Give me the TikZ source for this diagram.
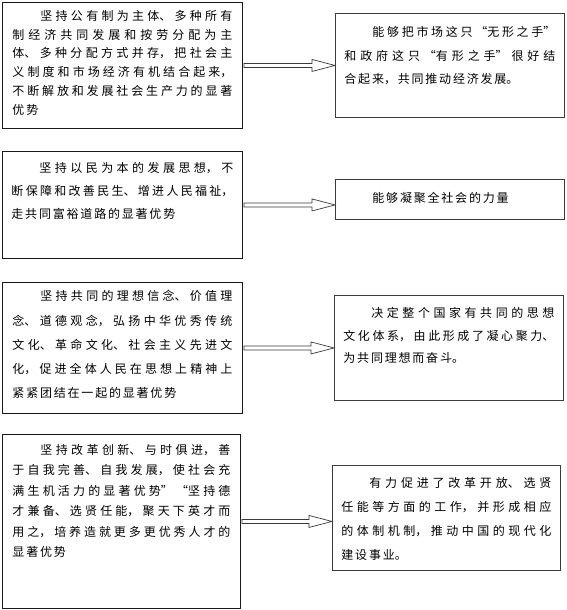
\documentclass[tikz,border=0pt]{standalone}
\usepackage{fontspec, xcolor}
\usetikzlibrary{calc}
\newfontfamily\cjk{Noto Sans CJK SC}
\definecolor{boxline}{HTML}{1A1A1A}
\definecolor{arrowgray}{HTML}{3A3A3A}

% paragraph inside a box: width, height, line skip, text (first line indented)
\newcommand{\celltext}[4]{\parbox[t][#2][t]{#1}{\baselineskip=#3
  \XeTeXlinebreaklocale "zh"\XeTeXlinebreakskip=1.8pt plus 6pt\relax
  \hspace*{28pt}#4}}

% outlined double-line arrow from the east side of #1 to the west side of #2
\newcommand{\hollowarrow}[2]{%
  \draw[arrowline] ($(#1.east)+(1,-2)$) -- ($(#1.east -| #2.west)+(-23,-2)$)
    -- ++(0,-4) -- (#1.east -| #2.west) -- ++(-23,6) -- ++(0,-4)
    -- ($(#1.east)+(1,2)$) -- cycle;}

\begin{document}
\begin{tikzpicture}[
    x=1pt, y=-1pt,
    font=\cjk\fontsize{12}{15}\selectfont,
    advbox/.style={rectangle, draw=boxline, line width=0.9pt, fill=white,
                   anchor=north west, inner xsep=10pt},
    effbox/.style={advbox, draw=boxline!85, line width=0.8pt, inner xsep=9pt},
    arrowline/.style={draw=arrowgray, line width=0.7pt, fill=white}
  ]
    % page background
    \fill[white] (0,0) rectangle (567,610);
    \useasboundingbox (0,0) rectangle (567,610);

    % advantages, left column
    \node[advbox, inner ysep=8pt] (adv1) at (2,2)
      {\celltext{220pt}{110pt}{18.7pt}{坚持公有制为主体、多种所有\linebreak
       制经济共同发展和按劳分配为主\linebreak
       体、多种分配方式并存，把社会主\linebreak
       义制度和市场经济有机结合起来，\linebreak
       不断解放和发展社会生产力的显著\linebreak
       优势}};
    \node[advbox, inner ysep=11pt, inner xsep=9pt] (adv2) at (2,151)
      {\celltext{222pt}{85pt}{23pt}{坚持以民为本的发展思想，不\linebreak
       断保障和改善民生、增进人民福祉，\linebreak
       走共同富裕道路的显著优势}};
    \node[advbox, inner ysep=8pt] (adv3) at (2,282)
      {\celltext{220pt}{115pt}{24.3pt}{坚持共同的理想信念、价值理\linebreak
       念、道德观念，弘扬中华优秀传统\linebreak
       文化、革命文化、社会主义先进文\linebreak
       化，促进全体人民在思想上精神上\linebreak
       紧紧团结在一起的显著优势}};
    \node[advbox, inner ysep=10pt] (adv4) at (2,434)
      {\celltext{218pt}{154pt}{20.4pt}{坚持改革创新、与时俱进，善\linebreak
       于自我完善、自我发展，使社会充\linebreak
       满生机活力的显著优势”“坚持德\linebreak
       才兼备、选贤任能，聚天下英才而\linebreak
       用之，培养造就更多更优秀人才的\linebreak
       显著优势}};

    % effects, right column
    \node[effbox, inner ysep=13pt] (eff1) at (335,13)
      {\celltext{211pt}{78pt}{23.5pt}{能够把市场这只“无形之手”\linebreak
       和政府这只“有形之手”很好结\linebreak
       合起来，共同推动经济发展。}};
    \node[effbox, inner ysep=12.5pt] (eff2) at (335,179)
      {\celltext{211pt}{15pt}{23pt}{能够凝聚全社会的力量}};
    \node[effbox, inner ysep=12pt] (eff3) at (334,295)
      {\celltext{211pt}{81pt}{22.5pt}{决定整个国家有共同的思想\linebreak
       文化体系，由此形成了凝心聚力、\linebreak
       为共同理想而奋斗。}};
    \node[effbox, inner ysep=12pt] (eff4) at (332,465)
      {\celltext{210pt}{81pt}{24pt}{有力促进了改革开放、选贤\linebreak
       任能等方面的工作，并形成相应\linebreak
       的体制机制，推动中国的现代化\linebreak
       建设事业。}};

    % arrows
    \hollowarrow{adv1}{eff1}
    \hollowarrow{adv2}{eff2}
    \hollowarrow{adv3}{eff3}
    \hollowarrow{adv4}{eff4}
  \end{tikzpicture}
\end{document}
